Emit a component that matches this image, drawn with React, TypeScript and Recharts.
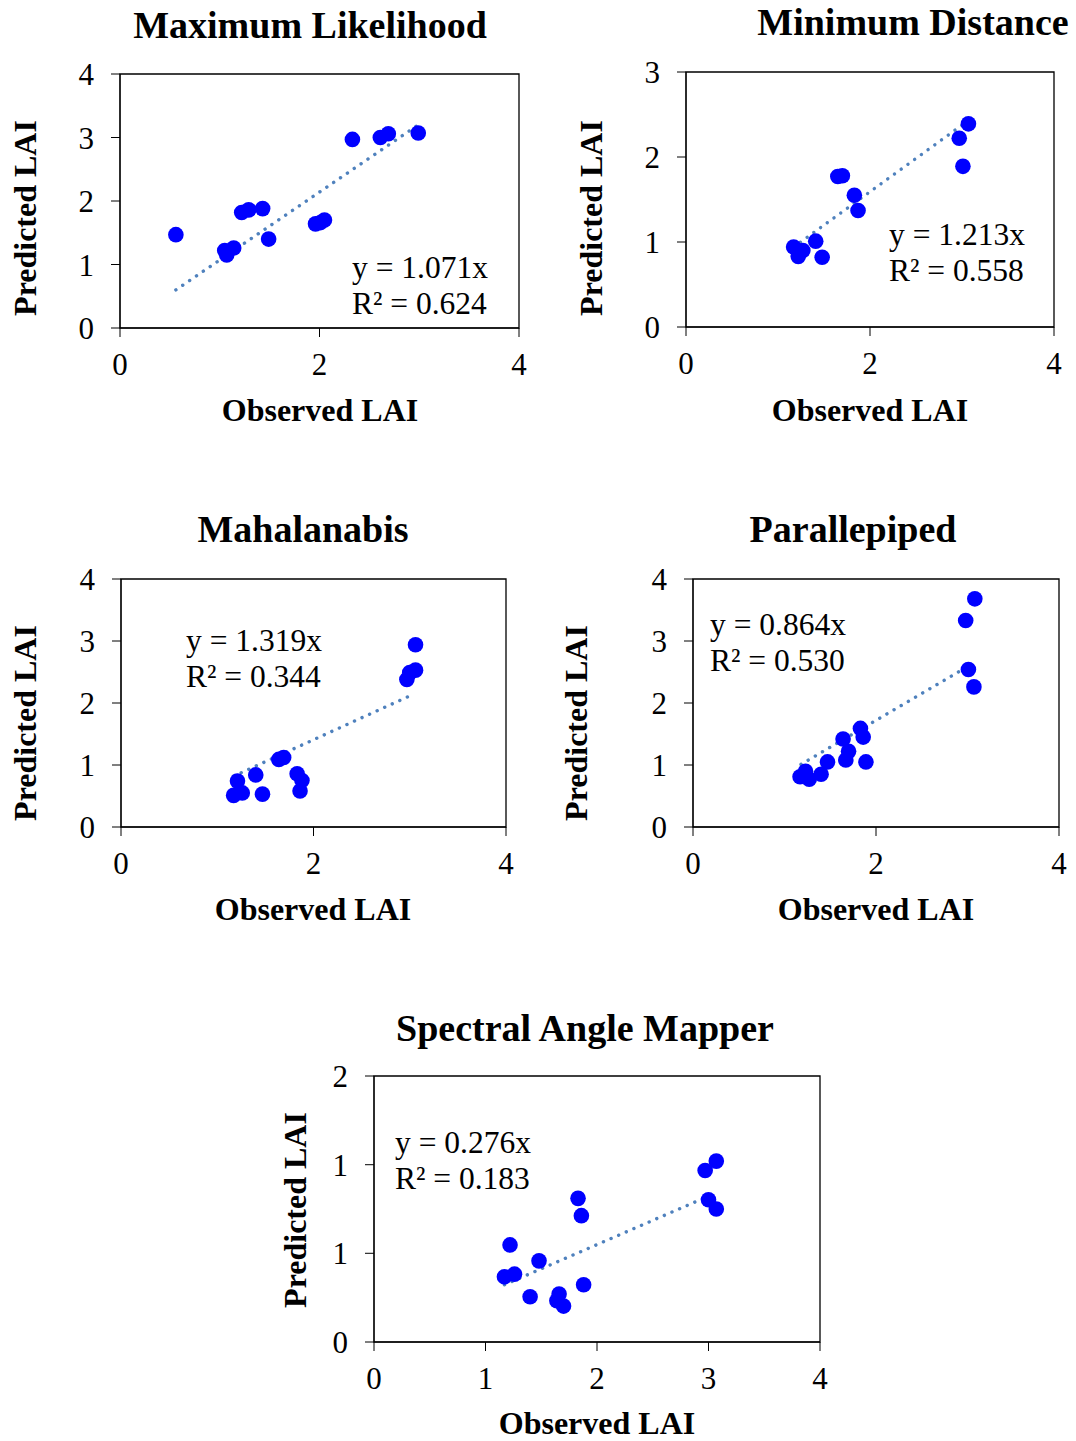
import React from 'react';
import { ScatterChart, Scatter, XAxis, YAxis, ReferenceArea } from 'recharts';

const FONT = '"Liberation Serif", "Times New Roman", serif';
const DOT_COLOR = '#0000ff';
const TREND_COLOR = '#4f81bd';

// Maximum Likelihood
const mlObserved = [0.56, 1.05, 1.07, 1.14, 1.22, 1.29, 1.43, 1.49, 1.96, 2.01, 2.05, 2.33, 2.61, 2.69, 2.99];
const mlPredicted = [1.47, 1.22, 1.15, 1.26, 1.82, 1.86, 1.88, 1.4, 1.64, 1.66, 1.7, 2.97, 3.0, 3.06, 3.07];
const mlTrendX = [0.56, 2.99];
const mlTrendY = [0.6, 3.2];

// Minimum Distance
const mdObserved = [1.17, 1.22, 1.27, 1.41, 1.48, 1.65, 1.7, 1.83, 1.87, 2.97, 3.01, 3.07];
const mdPredicted = [0.94, 0.83, 0.9, 1.01, 0.82, 1.77, 1.78, 1.55, 1.37, 2.22, 1.89, 2.39];
const mdTrendX = [1.17, 3.07];
const mdTrendY = [0.94, 2.43];

// Mahalanabis
const mhObserved = [1.17, 1.21, 1.26, 1.4, 1.47, 1.64, 1.69, 1.83, 1.88, 1.86, 2.97, 3.0, 3.06, 3.06];
const mhPredicted = [0.51, 0.74, 0.55, 0.84, 0.53, 1.09, 1.12, 0.86, 0.75, 0.58, 2.38, 2.49, 2.53, 2.94];
const mhTrendX = [1.17, 3.05];
const mhTrendY = [0.82, 2.15];

// Parallepiped
const ppObserved = [1.17, 1.23, 1.27, 1.4, 1.47, 1.64, 1.7, 1.67, 1.83, 1.86, 1.89, 2.98, 3.08, 3.01, 3.07];
const ppPredicted = [0.81, 0.9, 0.77, 0.85, 1.05, 1.42, 1.22, 1.08, 1.59, 1.45, 1.05, 3.33, 3.68, 2.54, 2.26];
const ppTrendX = [1.18, 3.05];
const ppTrendY = [1.01, 2.63];

// Spectral Angle Mapper
const samObserved = [1.17, 1.26, 1.22, 1.4, 1.48, 1.64, 1.66, 1.7, 1.83, 1.86, 1.88, 2.97, 3.07, 3.0, 3.07];
const samPredicted = [0.49, 0.51, 0.73, 0.34, 0.61, 0.31, 0.36, 0.27, 1.08, 0.95, 0.43, 1.29, 1.36, 1.07, 1.0];
const samTrendX = [1.17, 3.01];
const samTrendY = [0.43, 1.1];

const xTicks4 = [0, 2, 4];
const xTicks5 = [0, 1, 2, 3, 4];
const yTicks4 = [0, 1, 2, 3, 4];
const yTicks3 = [0, 1, 2, 3];
const yTicksSam = [0, 0.667, 1.333, 2];

const zip = (xs: number[], ys: number[]) => xs.map((x, i) => ({ x, y: ys[i] }));

const Dot = (props: any) => <circle cx={props.cx} cy={props.cy} r={7.8} fill={DOT_COLOR} />;
const NoDot = () => <g />;

const Label = ({ x, y, size, bold, rotate, start, children }: any) => (
  <div
    style={{
      position: 'absolute',
      left: x,
      top: y,
      transform: `translate(${start ? '0' : '-50%'}, -50%)${rotate ? ' rotate(-90deg)' : ''}`,
      fontSize: size,
      fontWeight: bold ? 700 : 400,
      lineHeight: 1,
      whiteSpace: 'nowrap',
      color: '#000',
    }}
  >
    {children}
  </div>
);

interface PanelProps {
  left: number;
  top: number;
  w: number;
  h: number;
  xTicks: number[];
  yTicks: number[];
  yMax: number;
  observed: number[];
  predicted: number[];
  trendX: number[];
  trendY: number[];
  title: string;
  titlePos: [number, number];
  yLabelPos: [number, number];
  xLabelPos: [number, number];
  eq: string;
  r2: string;
  eqPos: [number, number];
}

const tickStyle = { fill: '#000', fontSize: 31, fontFamily: FONT };

const Panel = (p: PanelProps) => (
  <>
    <div style={{ position: 'absolute', left: p.left - 70, top: p.top - 20 }}>
      <ScatterChart width={p.w + 100} height={p.h + 80} margin={{ top: 20, right: 30, bottom: 0, left: 0 }}>
        <XAxis
          type="number"
          dataKey="x"
          domain={[0, 4]}
          ticks={p.xTicks}
          interval={0}
          tick={tickStyle}
          tickSize={9}
          tickMargin={16}
          stroke="#000"
          height={60}
        />
        <YAxis
          type="number"
          dataKey="y"
          domain={[0, p.yMax]}
          ticks={p.yTicks}
          interval={0}
          tick={tickStyle}
          tickFormatter={(v: number) => String(Math.round(v))}
          tickSize={9}
          tickMargin={17}
          stroke="#000"
          width={70}
        />
        <ReferenceArea x1={0} x2={4} y1={0} y2={p.yMax} fill="none" stroke="#000" strokeWidth={1.3} />
        <Scatter
          data={zip(p.trendX, p.trendY)}
          shape={NoDot}
          line={{ stroke: TREND_COLOR, strokeWidth: 3.4, strokeDasharray: '0.1 8.2', strokeLinecap: 'round' }}
          isAnimationActive={false}
        />
        <Scatter data={zip(p.observed, p.predicted)} shape={Dot} isAnimationActive={false} />
      </ScatterChart>
    </div>
    <Label x={p.titlePos[0]} y={p.titlePos[1]} size={38} bold>{p.title}</Label>
    <Label x={p.yLabelPos[0]} y={p.yLabelPos[1]} size={32} bold rotate>Predicted LAI</Label>
    <Label x={p.xLabelPos[0]} y={p.xLabelPos[1]} size={32} bold>Observed LAI</Label>
    <Label x={p.eqPos[0]} y={p.eqPos[1]} size={31.5} start>{p.eq}</Label>
    <Label x={p.eqPos[0]} y={p.eqPos[1] + 36} size={31.5} start>{p.r2}</Label>
  </>
);

export default function App() {
  return (
    <div style={{ position: 'absolute', left: 0, top: 0, width: 1076, height: 1441, background: '#fff', fontFamily: FONT }}>
      <Panel
        left={120} top={74} w={399} h={254}
        xTicks={xTicks4} yTicks={yTicks4} yMax={4}
        observed={mlObserved} predicted={mlPredicted} trendX={mlTrendX} trendY={mlTrendY}
        title="Maximum Likelihood" titlePos={[310, 25]}
        yLabelPos={[25, 218]} xLabelPos={[320, 410]}
        eq="y = 1.071x" r2="R² = 0.624" eqPos={[352, 268]}
      />
      <Panel
        left={686} top={72} w={368} h={255}
        xTicks={xTicks4} yTicks={yTicks3} yMax={3}
        observed={mdObserved} predicted={mdPredicted} trendX={mdTrendX} trendY={mdTrendY}
        title="Minimum Distance" titlePos={[913, 22]}
        yLabelPos={[591, 218]} xLabelPos={[870, 410]}
        eq="y = 1.213x" r2="R² = 0.558" eqPos={[889, 235]}
      />
      <Panel
        left={121} top={579} w={385} h={248}
        xTicks={xTicks4} yTicks={yTicks4} yMax={4}
        observed={mhObserved} predicted={mhPredicted} trendX={mhTrendX} trendY={mhTrendY}
        title="Mahalanabis" titlePos={[303, 529]}
        yLabelPos={[25, 723]} xLabelPos={[313, 909]}
        eq="y = 1.319x" r2="R² = 0.344" eqPos={[186, 641]}
      />
      <Panel
        left={693} top={579} w={366} h={248}
        xTicks={xTicks4} yTicks={yTicks4} yMax={4}
        observed={ppObserved} predicted={ppPredicted} trendX={ppTrendX} trendY={ppTrendY}
        title="Parallepiped" titlePos={[853, 529]}
        yLabelPos={[576, 723]} xLabelPos={[876, 909]}
        eq="y = 0.864x" r2="R² = 0.530" eqPos={[710, 625]}
      />
      <Panel
        left={374} top={1076} w={446} h={266}
        xTicks={xTicks5} yTicks={yTicksSam} yMax={2}
        observed={samObserved} predicted={samPredicted} trendX={samTrendX} trendY={samTrendY}
        title="Spectral Angle Mapper" titlePos={[585, 1028]}
        yLabelPos={[295, 1210]} xLabelPos={[597, 1423]}
        eq="y = 0.276x" r2="R² = 0.183" eqPos={[395, 1143]}
      />
    </div>
  );
}
